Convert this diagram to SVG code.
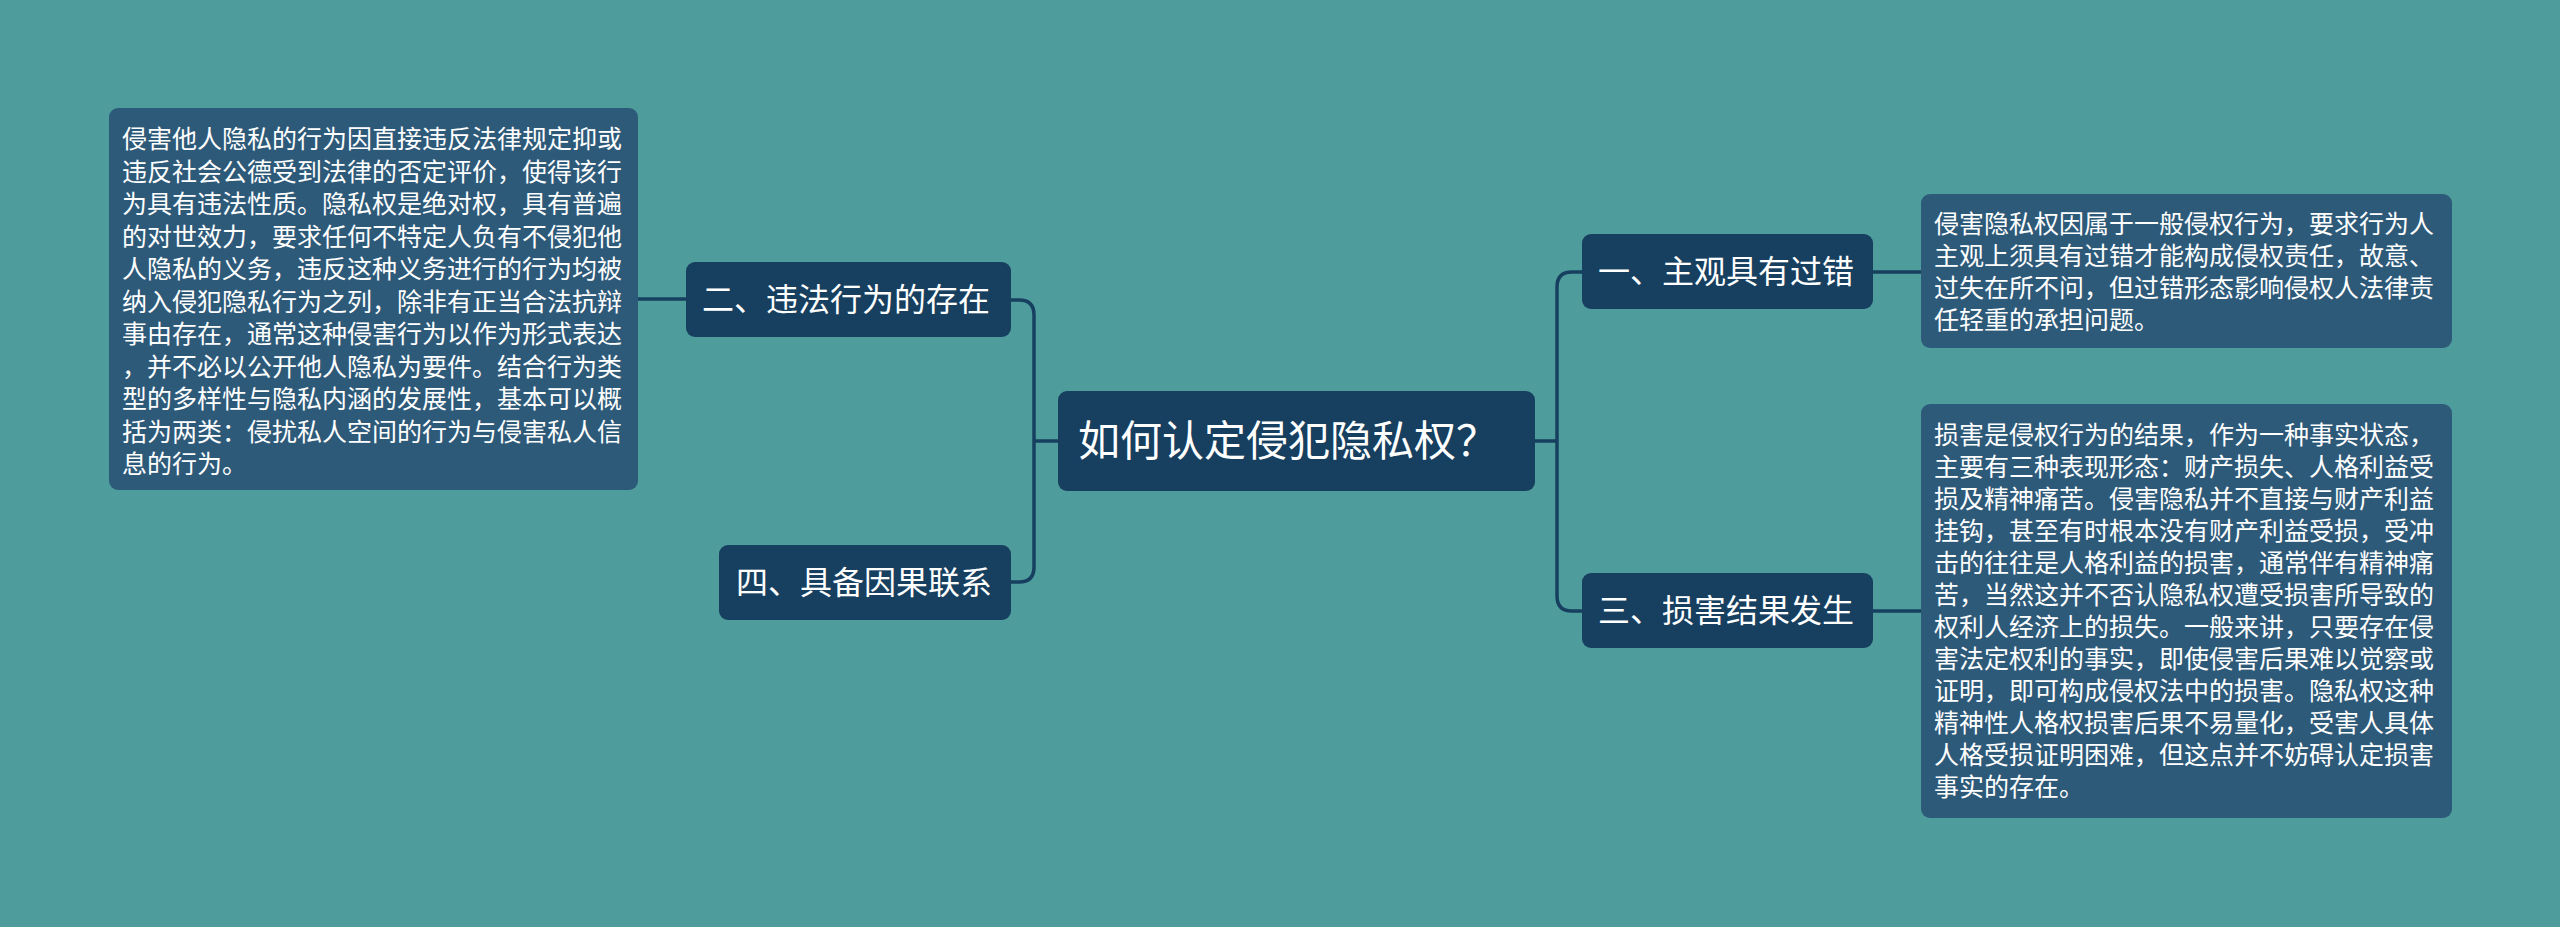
<svg xmlns="http://www.w3.org/2000/svg" width="2560" height="927" viewBox="0 0 2560 927">
<style>
.bg{fill:#4E9C9C}
.node{fill:#173F5F}
.leaf{fill:#2E5A7A}
.conn{fill:none;stroke:#173F5F;stroke-width:3.5}
text{fill:#FFFFFF;font-family:"Noto Sans CJK SC","Microsoft YaHei",sans-serif}
.t1{font-size:42px}
.t2{font-size:32px}
.t3{font-size:25px}
</style>
<rect class="bg" x="0" y="0" width="2560" height="927"/>
<g id="connectors">
<path class="conn" d="M1058,441 H1034"/>
<path class="conn" d="M1011,300 H1019 Q1034,300 1034,315 V567 Q1034,582 1019,582 H1011"/>
<path class="conn" d="M638,299 H686"/>
<path class="conn" d="M1535,441 H1557"/>
<path class="conn" d="M1582,272 H1572 Q1557,272 1557,287 V596 Q1557,611 1572,611 H1582"/>
<path class="conn" d="M1873,272 H1921"/>
<path class="conn" d="M1873,611 H1921"/>
</g>
<g id="root">
<rect class="node" x="1058" y="391" width="477" height="100" rx="9"/>
<text class="t1" x="1078" y="456">如何认定侵犯隐私权？</text>
</g>
<g id="n2">
<rect class="node" x="686" y="262" width="325" height="75" rx="9"/>
<text class="t2" x="702" y="311">二、违法行为的存在</text>
</g>
<g id="n4">
<rect class="node" x="719" y="545" width="292" height="75" rx="9"/>
<text class="t2" x="736" y="594">四、具备因果联系</text>
</g>
<g id="n1">
<rect class="node" x="1582" y="234" width="291" height="75" rx="9"/>
<text class="t2" x="1598" y="283">一、主观具有过错</text>
</g>
<g id="n3">
<rect class="node" x="1582" y="573" width="291" height="75" rx="9"/>
<text class="t2" x="1598" y="622">三、损害结果发生</text>
</g>
<g id="leaf2">
<rect class="leaf" x="109" y="108" width="529" height="382" rx="9"/>
<text class="t3" x="122" y="148">侵害他人隐私的行为因直接违反法律规定抑或</text>
<text class="t3" x="122" y="180.5">违反社会公德受到法律的否定评价，使得该行</text>
<text class="t3" x="122" y="213">为具有违法性质。隐私权是绝对权，具有普遍</text>
<text class="t3" x="122" y="245.5">的对世效力，要求任何不特定人负有不侵犯他</text>
<text class="t3" x="122" y="278">人隐私的义务，违反这种义务进行的行为均被</text>
<text class="t3" x="122" y="310.5">纳入侵犯隐私行为之列，除非有正当合法抗辩</text>
<text class="t3" x="122" y="343">事由存在，通常这种侵害行为以作为形式表达</text>
<text class="t3" x="122" y="375.5">，并不必以公开他人隐私为要件。结合行为类</text>
<text class="t3" x="122" y="408">型的多样性与隐私内涵的发展性，基本可以概</text>
<text class="t3" x="122" y="440.5">括为两类：侵扰私人空间的行为与侵害私人信</text>
<text class="t3" x="122" y="473">息的行为。</text>
</g>
<g id="leaf1">
<rect class="leaf" x="1921" y="194" width="531" height="154" rx="9"/>
<text class="t3" x="1934" y="233">侵害隐私权因属于一般侵权行为，要求行为人</text>
<text class="t3" x="1934" y="265">主观上须具有过错才能构成侵权责任，故意、</text>
<text class="t3" x="1934" y="297">过失在所不问，但过错形态影响侵权人法律责</text>
<text class="t3" x="1934" y="329">任轻重的承担问题。</text>
</g>
<g id="leaf3">
<rect class="leaf" x="1921" y="404" width="531" height="414" rx="9"/>
<text class="t3" x="1934" y="444">损害是侵权行为的结果，作为一种事实状态，</text>
<text class="t3" x="1934" y="476">主要有三种表现形态：财产损失、人格利益受</text>
<text class="t3" x="1934" y="508">损及精神痛苦。侵害隐私并不直接与财产利益</text>
<text class="t3" x="1934" y="540">挂钩，甚至有时根本没有财产利益受损，受冲</text>
<text class="t3" x="1934" y="572">击的往往是人格利益的损害，通常伴有精神痛</text>
<text class="t3" x="1934" y="604">苦，当然这并不否认隐私权遭受损害所导致的</text>
<text class="t3" x="1934" y="636">权利人经济上的损失。一般来讲，只要存在侵</text>
<text class="t3" x="1934" y="668">害法定权利的事实，即使侵害后果难以觉察或</text>
<text class="t3" x="1934" y="700">证明，即可构成侵权法中的损害。隐私权这种</text>
<text class="t3" x="1934" y="732">精神性人格权损害后果不易量化，受害人具体</text>
<text class="t3" x="1934" y="764">人格受损证明困难，但这点并不妨碍认定损害</text>
<text class="t3" x="1934" y="796">事实的存在。</text>
</g>
</svg>
